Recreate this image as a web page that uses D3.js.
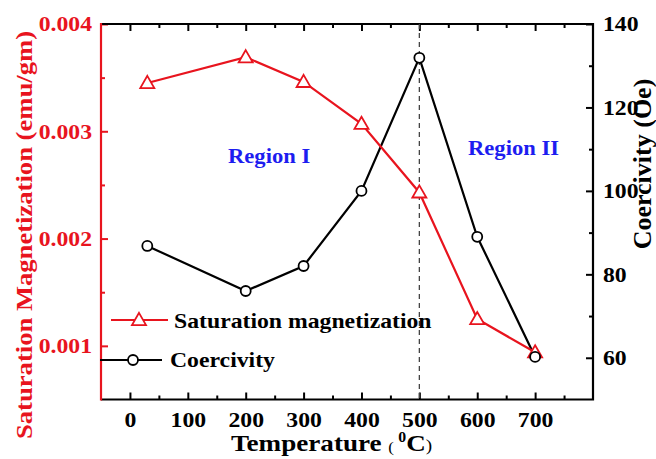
<!DOCTYPE html>
<html>
<head>
<meta charset="utf-8">
<script src="https://cdn.jsdelivr.net/npm/d3@7"></script>
<style>
  body { margin: 0; background: #fff; }
  text { font-family: "Liberation Serif", "Times New Roman", serif; font-weight: bold; }
</style>
</head>
<body>
<script>
const width = 656, height = 459
const margin = { top: 24, right: 63, bottom: 60, left: 101 }

// data
const temperature = [30, 200, 300, 400, 500, 600, 700]
const saturation = [0.00345, 0.00369, 0.00346, 0.00307, 0.00243, 0.00125, 0.00094]
const coercivity = [86.8, 76.0, 82.0, 100.0, 131.9, 89.0, 60.2]
const xTicks = [0, 100, 200, 300, 400, 500, 600, 700]
const leftTicks = [0.001, 0.002, 0.003, 0.004]
const rightTicks = [60, 80, 100, 120, 140]
const dividerTemp = 500

const red = '#e8141e'
const blue = '#1d1df0'
const sx = 1.13   // the original picture is a bit wider than tall

const svg = d3.select('body').append('svg')
    .attr('width', width)
    .attr('height', height)

const x = d3.scaleLinear().domain([-50, 800]).range([margin.left, width - margin.right])
const yL = d3.scaleLinear().domain([0.0005, 0.004]).range([height - margin.bottom + 0.5, margin.top])
const yR = d3.scaleLinear().domain([50, 140]).range([height - margin.bottom + 0.5, margin.top])

const x0 = margin.left, x1 = width - margin.right
const y0 = height - margin.bottom + 0.5, y1 = margin.top

function minorOf(ticks) {
    const step = ticks[1] - ticks[0]
    const out = []
    for (let i = -1; i < ticks.length; i++) out.push(ticks[0] + step * (i + 0.5))
    return out
}

// helper: a text placed at (px, py), stretched horizontally
function label(px, py, str, size, color) {
    return svg.append('text')
        .attr('transform', 'translate(' + px + ',' + py + ')scale(' + sx + ',1)')
        .attr('fill', color)
        .style('font-size', size + 'px')
        .text(str)
}

function styleTicks(g, color) {
    g.select('.domain').remove()
    g.selectAll('line').attr('stroke', color).attr('stroke-width', 2)
}

// bottom axis
svg.append('g')
    .attr('transform', 'translate(0,' + y0 + ')')
    .call(d3.axisBottom(x).tickValues(xTicks).tickSize(-7).tickFormat(d3.format('d')))
    .call(g => styleTicks(g, '#000'))
    .call(g => g.selectAll('text').attr('fill', '#000').style('font-size', '21px')
        .attr('y', 0).attr('dy', 0).attr('transform', 'translate(0,27)scale(' + sx + ',1)'))
svg.append('g')
    .attr('transform', 'translate(0,' + y0 + ')')
    .call(d3.axisBottom(x).tickValues(minorOf(xTicks).filter(d => d > -50 && d < 800)).tickSize(-4).tickFormat(''))
    .call(g => styleTicks(g, '#000'))

// top axis mirror
svg.append('g')
    .attr('transform', 'translate(0,' + y1 + ')')
    .call(d3.axisTop(x).tickValues(xTicks).tickSize(-7).tickFormat(''))
    .call(g => styleTicks(g, '#000'))
svg.append('g')
    .attr('transform', 'translate(0,' + y1 + ')')
    .call(d3.axisTop(x).tickValues(minorOf(xTicks).filter(d => d > -50 && d < 800)).tickSize(-4).tickFormat(''))
    .call(g => styleTicks(g, '#000'))

// left axis (red)
svg.append('g')
    .attr('transform', 'translate(' + x0 + ',0)')
    .call(d3.axisLeft(yL).tickValues(leftTicks).tickSize(-7).tickFormat(d3.format('.3f')))
    .call(g => styleTicks(g, red))
    .call(g => g.selectAll('text').attr('fill', red).style('font-size', '21px')
        .attr('x', 0).attr('transform', 'translate(-9,0)scale(' + sx + ',1)'))
svg.append('g')
    .attr('transform', 'translate(' + x0 + ',0)')
    .call(d3.axisLeft(yL).tickValues(minorOf(leftTicks).filter(d => d > 0.0005 && d < 0.004)).tickSize(-4).tickFormat(''))
    .call(g => styleTicks(g, red))

// right axis (black)
svg.append('g')
    .attr('transform', 'translate(' + x1 + ',0)')
    .call(d3.axisRight(yR).tickValues(rightTicks).tickSize(-7))
    .call(g => styleTicks(g, '#000'))
    .call(g => g.selectAll('text').attr('fill', '#000').style('font-size', '21px')
        .attr('x', 0).attr('transform', 'translate(10,0)scale(' + sx + ',1)'))
svg.append('g')
    .attr('transform', 'translate(' + x1 + ',0)')
    .call(d3.axisRight(yR).tickValues(minorOf(rightTicks).filter(d => d > 50 && d < 140)).tickSize(-4).tickFormat(''))
    .call(g => styleTicks(g, '#000'))

// frame
svg.append('path')
    .attr('d', 'M' + x0 + ',' + y1 + 'H' + x1 + 'V' + y0 + 'H' + x0)
    .attr('fill', 'none').attr('stroke', '#000').attr('stroke-width', 2.2)
svg.append('line')
    .attr('x1', x0).attr('x2', x0).attr('y1', y1 - 1).attr('y2', y0 + 1)
    .attr('stroke', red).attr('stroke-width', 2.2)

// divider at 500 C
svg.append('line')
    .attr('x1', x(dividerTemp)).attr('x2', x(dividerTemp))
    .attr('y1', y1).attr('y2', y0)
    .attr('stroke', '#444').attr('stroke-width', 1.3)
    .attr('stroke-dasharray', '5,4')

const pts = temperature.map((t, i) => ({ t: t, s: saturation[i], c: coercivity[i] }))

// coercivity line
svg.append('path')
    .datum(pts)
    .attr('d', d3.line().x(d => x(d.t)).y(d => yR(d.c)))
    .attr('fill', 'none').attr('stroke', '#000').attr('stroke-width', 2.2)

// saturation line
svg.append('path')
    .datum(pts)
    .attr('d', d3.line().x(d => x(d.t)).y(d => yL(d.s)))
    .attr('fill', 'none').attr('stroke', red).attr('stroke-width', 2.2)

const tri = d3.symbol().type(d3.symbolTriangle).size(85)

svg.selectAll('.tri').data(pts).enter()
    .append('path')
    .attr('transform', d => 'translate(' + x(d.t) + ',' + (yL(d.s) + 1) + ')')
    .attr('d', tri)
    .attr('fill', '#fff').attr('stroke', red).attr('stroke-width', 1.8)

svg.selectAll('.dot').data(pts).enter()
    .append('circle')
    .attr('cx', d => x(d.t))
    .attr('cy', d => yR(d.c))
    .attr('r', 5)
    .attr('fill', '#fff').attr('stroke', '#000').attr('stroke-width', 1.8)

// region labels
label(228, 163, 'Region I', 20, blue)
label(468, 155, 'Region II', 20, blue)

// legend
svg.append('line').attr('x1', 111).attr('x2', 168).attr('y1', 320).attr('y2', 320)
    .attr('stroke', red).attr('stroke-width', 2.2)
svg.append('path').attr('transform', 'translate(139,321)').attr('d', tri)
    .attr('fill', '#fff').attr('stroke', red).attr('stroke-width', 1.8)
label(174, 328, 'Saturation magnetization', 21, '#000')

svg.append('line').attr('x1', 100).attr('x2', 162).attr('y1', 360).attr('y2', 360)
    .attr('stroke', '#000').attr('stroke-width', 2.2)
svg.append('circle').attr('cx', 133).attr('cy', 360).attr('r', 5)
    .attr('fill', '#fff').attr('stroke', '#000').attr('stroke-width', 1.8)
label(170, 367, 'Coercivity', 21, '#000')

// axis titles
const xt = label(231, 451, '', 24, '#000')
xt.append('tspan').text('Temperature ')
xt.append('tspan').style('font-size', '15px').style('font-weight', 'normal').attr('dy', 1).text('( ')
xt.append('tspan').style('font-size', '14px').attr('dy', -10).text('0')
xt.append('tspan').attr('dy', 9).text('C')
xt.append('tspan').style('font-size', '17px').style('font-weight', 'normal').text(')')

svg.append('text')
    .attr('transform', 'translate(32,235)rotate(-90)')
    .attr('text-anchor', 'middle')
    .attr('fill', red)
    .style('font-size', '24px')
    .attr('textLength', 408)
    .attr('lengthAdjust', 'spacingAndGlyphs')
    .text('Saturation Magnetization (emu/gm)')

svg.append('text')
    .attr('transform', 'translate(651,164)rotate(-90)')
    .attr('text-anchor', 'middle')
    .attr('fill', '#000')
    .style('font-size', '26px')
    .text('Coercivity (Oe)')
</script>
</body>
</html>
